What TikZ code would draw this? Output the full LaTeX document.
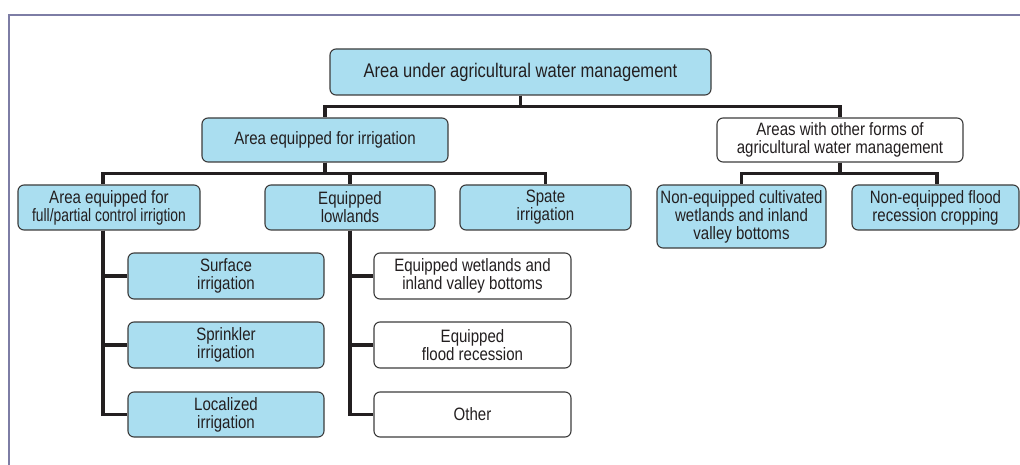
\documentclass[tikz,border=0pt]{standalone}
\usepackage{fontspec}
\setmainfont{Liberation Sans}[FakeStretch=0.84]
\definecolor{boxblue}{RGB}{170,222,240}
\definecolor{boxline}{RGB}{60,60,60}
\definecolor{conn}{RGB}{35,31,32}
\definecolor{frame}{RGB}{125,125,165}
\definecolor{txt}{RGB}{35,31,32}
\begin{document}
\begin{tikzpicture}[x=1pt,y=-1pt,
  box/.style={draw=boxline, line width=1.1pt, rounded corners=6pt, inner sep=0pt,
     align=center, font=\fontsize{17.9}{18}\selectfont, text=txt},
  bluebox/.style={box, fill=boxblue},
  whitebox/.style={box, fill=white},
  link/.style={draw=conn, line width=3.4pt}]
\useasboundingbox (0,0) rectangle (1020,465);
\draw[frame, line width=1.6pt] (1020,15) -- (9,15) -- (9,465);

\node[bluebox, minimum width=381pt, minimum height=46pt, font=\fontsize{19.7}{20}\selectfont] (root) at (520.5,72) {Area under agricultural water management};
\node[bluebox, minimum width=246pt, minimum height=44pt] (aei) at (325,140) {Area equipped for irrigation};
\node[whitebox, minimum width=246pt, minimum height=44pt] (other) at (840,140) {Areas with other forms of\\agricultural water management};

\node[bluebox, minimum width=182pt, minimum height=45pt] (full) at (109,207.5) {Area equipped for\\\scalebox{0.92}[1]{full/partial control irrigtion}};
\node[bluebox, minimum width=170pt, minimum height=45pt] (low) at (350,207.5) {Equipped\\lowlands};
\node[bluebox, minimum width=171pt, minimum height=45pt] (spate) at (545.5,207.5) {Spate\\irrigation};
\node[bluebox, minimum width=169pt, minimum height=63pt] (nec) at (741.5,216.5) {Non-equipped cultivated\\wetlands and inland\\valley bottoms};
\node[bluebox, minimum width=167pt, minimum height=45pt] (nef) at (935.5,207.5) {Non-equipped flood\\recession cropping};

\node[bluebox, minimum width=196pt, minimum height=46pt] (surf) at (226,276) {Surface\\irrigation};
\node[bluebox, minimum width=196pt, minimum height=46pt] (spr) at (226,345) {Sprinkler\\irrigation};
\node[bluebox, minimum width=196pt, minimum height=45pt] (loc) at (226,414.5) {Localized\\irrigation};

\node[whitebox, minimum width=197pt, minimum height=46pt] (ewet) at (472.5,276) {Equipped wetlands and\\inland valley bottoms};
\node[whitebox, minimum width=197pt, minimum height=46pt] (efr) at (472.5,345) {Equipped\\flood recession};
\node[whitebox, minimum width=197pt, minimum height=45pt] (oth) at (472.5,414.5) {Other};

% connectors
\draw[link] (root.south) -- ++(0,11) -| (aei.north);
\draw[link] (root.south) -- ++(0,11) -| (other.north);
\draw[link] (aei.south) -- ++(0,11) -| ([xshift=-6pt]full.north);
\draw[link] (aei.south) -- ++(0,11) -| (low.north);
\draw[link] (aei.south) -- ++(0,11) -| (spate.north);
\draw[link] (other.south) -- ++(0,11) -| (nec.north);
\draw[link] (other.south) -- ++(0,11) -| ([xshift=1.5pt]nef.north);
\draw[link] ([xshift=-6pt]full.south) |- (surf.west);
\draw[link] ([xshift=-6pt]full.south) |- (spr.west);
\draw[link] ([xshift=-6pt]full.south) |- (loc.west);
\draw[link] (low.south) |- (ewet.west);
\draw[link] (low.south) |- (efr.west);
\draw[link] (low.south) |- (oth.west);
\end{tikzpicture}
\end{document}
